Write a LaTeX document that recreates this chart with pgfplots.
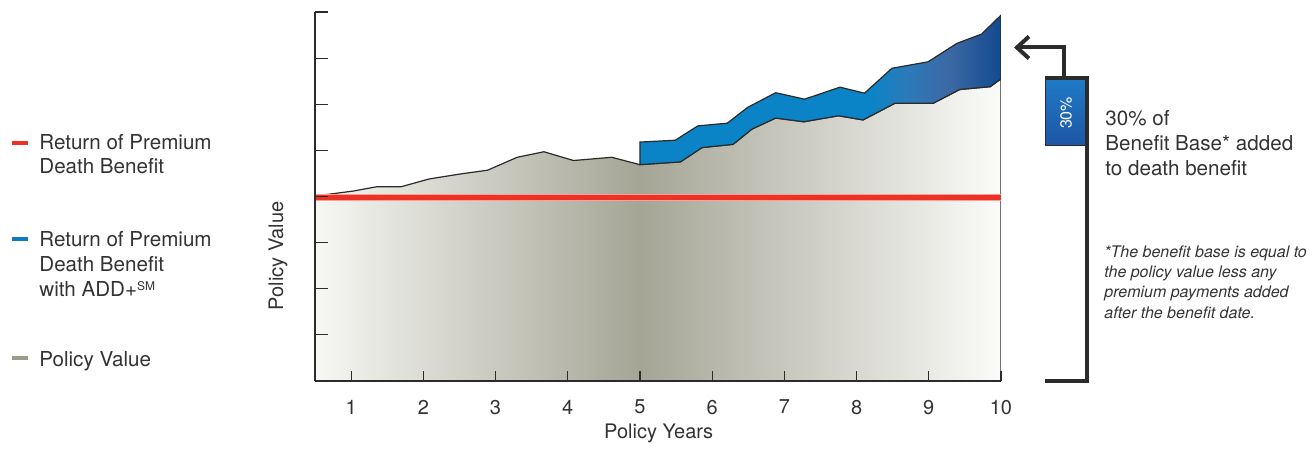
\documentclass[border=0pt]{standalone}
\usepackage{fontspec}
\setmainfont{TeX Gyre Heros}
\usepackage{pgfplots}
\pgfplotsset{compat=1.18}
\usetikzlibrary{arrows.meta}
\definecolor{txt}{HTML}{333333}
\definecolor{axisc}{HTML}{2B2B2B}
\definecolor{linec}{HTML}{2A2A2A}
\definecolor{rpd}{HTML}{EE3124}
\definecolor{rpl}{HTML}{F5A39A}
\definecolor{legblue}{HTML}{0A7CC4}
\definecolor{leggray}{HTML}{9C9C8C}
\definecolor{gL}{HTML}{F7F7F4}
\definecolor{gM}{HTML}{A5A596}
\definecolor{gR}{HTML}{FBFBF9}
\definecolor{bA}{HTML}{0A84C6}
\definecolor{bB}{HTML}{2C7AB9}
\definecolor{bC}{HTML}{3C68A4}
\definecolor{bD}{HTML}{124A90}
\definecolor{boxA}{HTML}{1F7BC6}
\definecolor{boxB}{HTML}{1E55A5}
\pgfdeclarehorizontalshading{grayfill}{100bp}{color(0bp)=(gL); color(25bp)=(gL); color(48.7bp)=(gM); color(75bp)=(gR); color(100bp)=(gR)}
\pgfdeclarehorizontalshading{bluefill}{100bp}{color(0bp)=(bA); color(57bp)=(bA); color(62bp)=(bB); color(68bp)=(bC); color(75bp)=(bD); color(100bp)=(bD)}
\begin{document}
\begin{tikzpicture}
\begin{scope}[shift={(-157.5pt,190.5pt)}, x=0.5pt, y=-0.5pt]
\path[use as bounding box] (0,0) rectangle (1316,445);
\end{scope}
\begin{axis}[
  at={(0,0)}, anchor=south west, scale only axis,
  width=343pt, height=184.5pt,
  xmin=0.5, xmax=10, ymin=0, ymax=8,
  axis x line*=bottom, axis y line*=left,
  axis line style={draw=axisc, line width=0.6pt, -},
  axis on top,
  xtick={1,...,10}, ytick={0,...,8}, yticklabels={},
  tick align=inside,
  tick style={draw=axisc, line width=0.6pt},
  xtick style={/pgfplots/major tick length=5pt},
  ytick style={/pgfplots/major tick length=6.5pt},
  /pgf/number format/assume math mode=true,
  xticklabel style={font=\fontsize{10}{12}\selectfont, text=txt, yshift=-6pt},
  xlabel={Policy Years},
  xlabel style={at={(axis description cs:0.501,-0.141)}, anchor=center, font=\fontsize{10}{12}\selectfont, text=txt},
  ylabel={Policy Value},
  ylabel style={at={(axis description cs:-0.054,0.339)}, anchor=center, rotate=0, font=\fontsize{10}{12}\selectfont, text=txt},
]
% Policy value area
\addplot[draw=linec, line width=0.6pt, shade, shading=grayfill] coordinates {
 (0.5,0) (0.5,4.01) (1.04,4.12) (1.35,4.21) (1.69,4.21) (2.08,4.38) (2.52,4.49)
 (2.89,4.57) (3.30,4.85) (3.67,4.97) (4.08,4.78) (4.61,4.85) (5.00,4.69)
 (5.56,4.75) (5.86,5.06) (6.29,5.13) (6.55,5.46) (6.88,5.70) (7.27,5.62)
 (7.75,5.75) (8.09,5.66) (8.53,6.02) (9.06,6.02) (9.43,6.32) (9.85,6.38)
 (10,6.55) (10,0)} -- cycle;
% ADD+ band
\addplot[draw=linec, line width=0.6pt, shade, shading=bluefill] coordinates {
 (5.00,4.69) (5.00,5.18) (5.49,5.22) (5.80,5.53) (6.21,5.59) (6.49,5.93)
 (6.88,6.25) (7.28,6.11) (7.77,6.37) (8.11,6.24) (8.49,6.78) (8.99,6.92)
 (9.39,7.32) (9.73,7.52) (10,7.93)
 (10,6.55) (9.85,6.38) (9.43,6.32) (9.06,6.02) (8.53,6.02) (8.09,5.66)
 (7.75,5.75) (7.27,5.62) (6.88,5.70) (6.55,5.46) (6.29,5.13) (5.86,5.06)
 (5.56,4.75) (5.00,4.69)} -- cycle;
% Return of premium death benefit
\addplot[draw=rpl, line width=3.4pt] coordinates {(0.5,3.97) (10,3.97)};
\addplot[draw=rpd, line width=2.4pt] coordinates {(0.5,3.97) (10,3.97)};
\end{axis}
\begin{scope}[shift={(-157.5pt,190.5pt)}, x=0.5pt, y=-0.5pt]
% legend
\draw[rpd, line width=2pt] (12,143) -- (28,143);
\draw[legblue, line width=2pt] (12,239) -- (28,239);
\draw[leggray, line width=2pt] (12,358) -- (28,358);
\begin{scope}[every node/.style={anchor=base west, inner sep=0pt, text=txt, font=\fontsize{10.3}{12}\selectfont}]
\node at (39,150) {Return of Premium};
\node at (39,174) {Death Benefit};
\node at (39,247) {Return of Premium};
\node at (39,271.5) {Death Benefit};
\node at (39,296.5) {with ADD+\raisebox{0.3em}{\fontsize{6}{6}\selectfont SM}};
\node at (39,366.7) {Policy Value};
\node at (1105,126) {30\% of};
\node at (1105,150.7) {Benefit Base* added};
\node at (1105,176) {to death benefit};
\end{scope}
\begin{scope}[every node/.style={anchor=base west, inner sep=0pt, text=txt, font=\fontsize{8}{10}\itshape}]
\node at (1104,257.3) {*The benefit base is equal to};
\node at (1104,277.6) {the policy value less any};
\node at (1104,297.9) {premium payments added};
\node at (1104,318.2) {after the benefit date.};
\end{scope}
% annotation box and bracket
\path[top color=boxA, bottom color=boxB, draw=axisc, line width=0.5pt] (1045,78) rectangle (1087,146);
\node[rotate=90, text=white, font=\fontsize{8}{10}\selectfont, inner sep=0pt] at (1066,113) {30\%};
\draw[axisc, line width=2.3pt] (1045,78) -- (1087,78) -- (1087,381) -- (1045,381);
\draw[axisc, line width=2pt, -{Straight Barb[length=6pt, width=11pt]}] (1064,78) -- (1064,47.5) -- (1014,47.5);
\end{scope}
\end{tikzpicture}
\end{document}
